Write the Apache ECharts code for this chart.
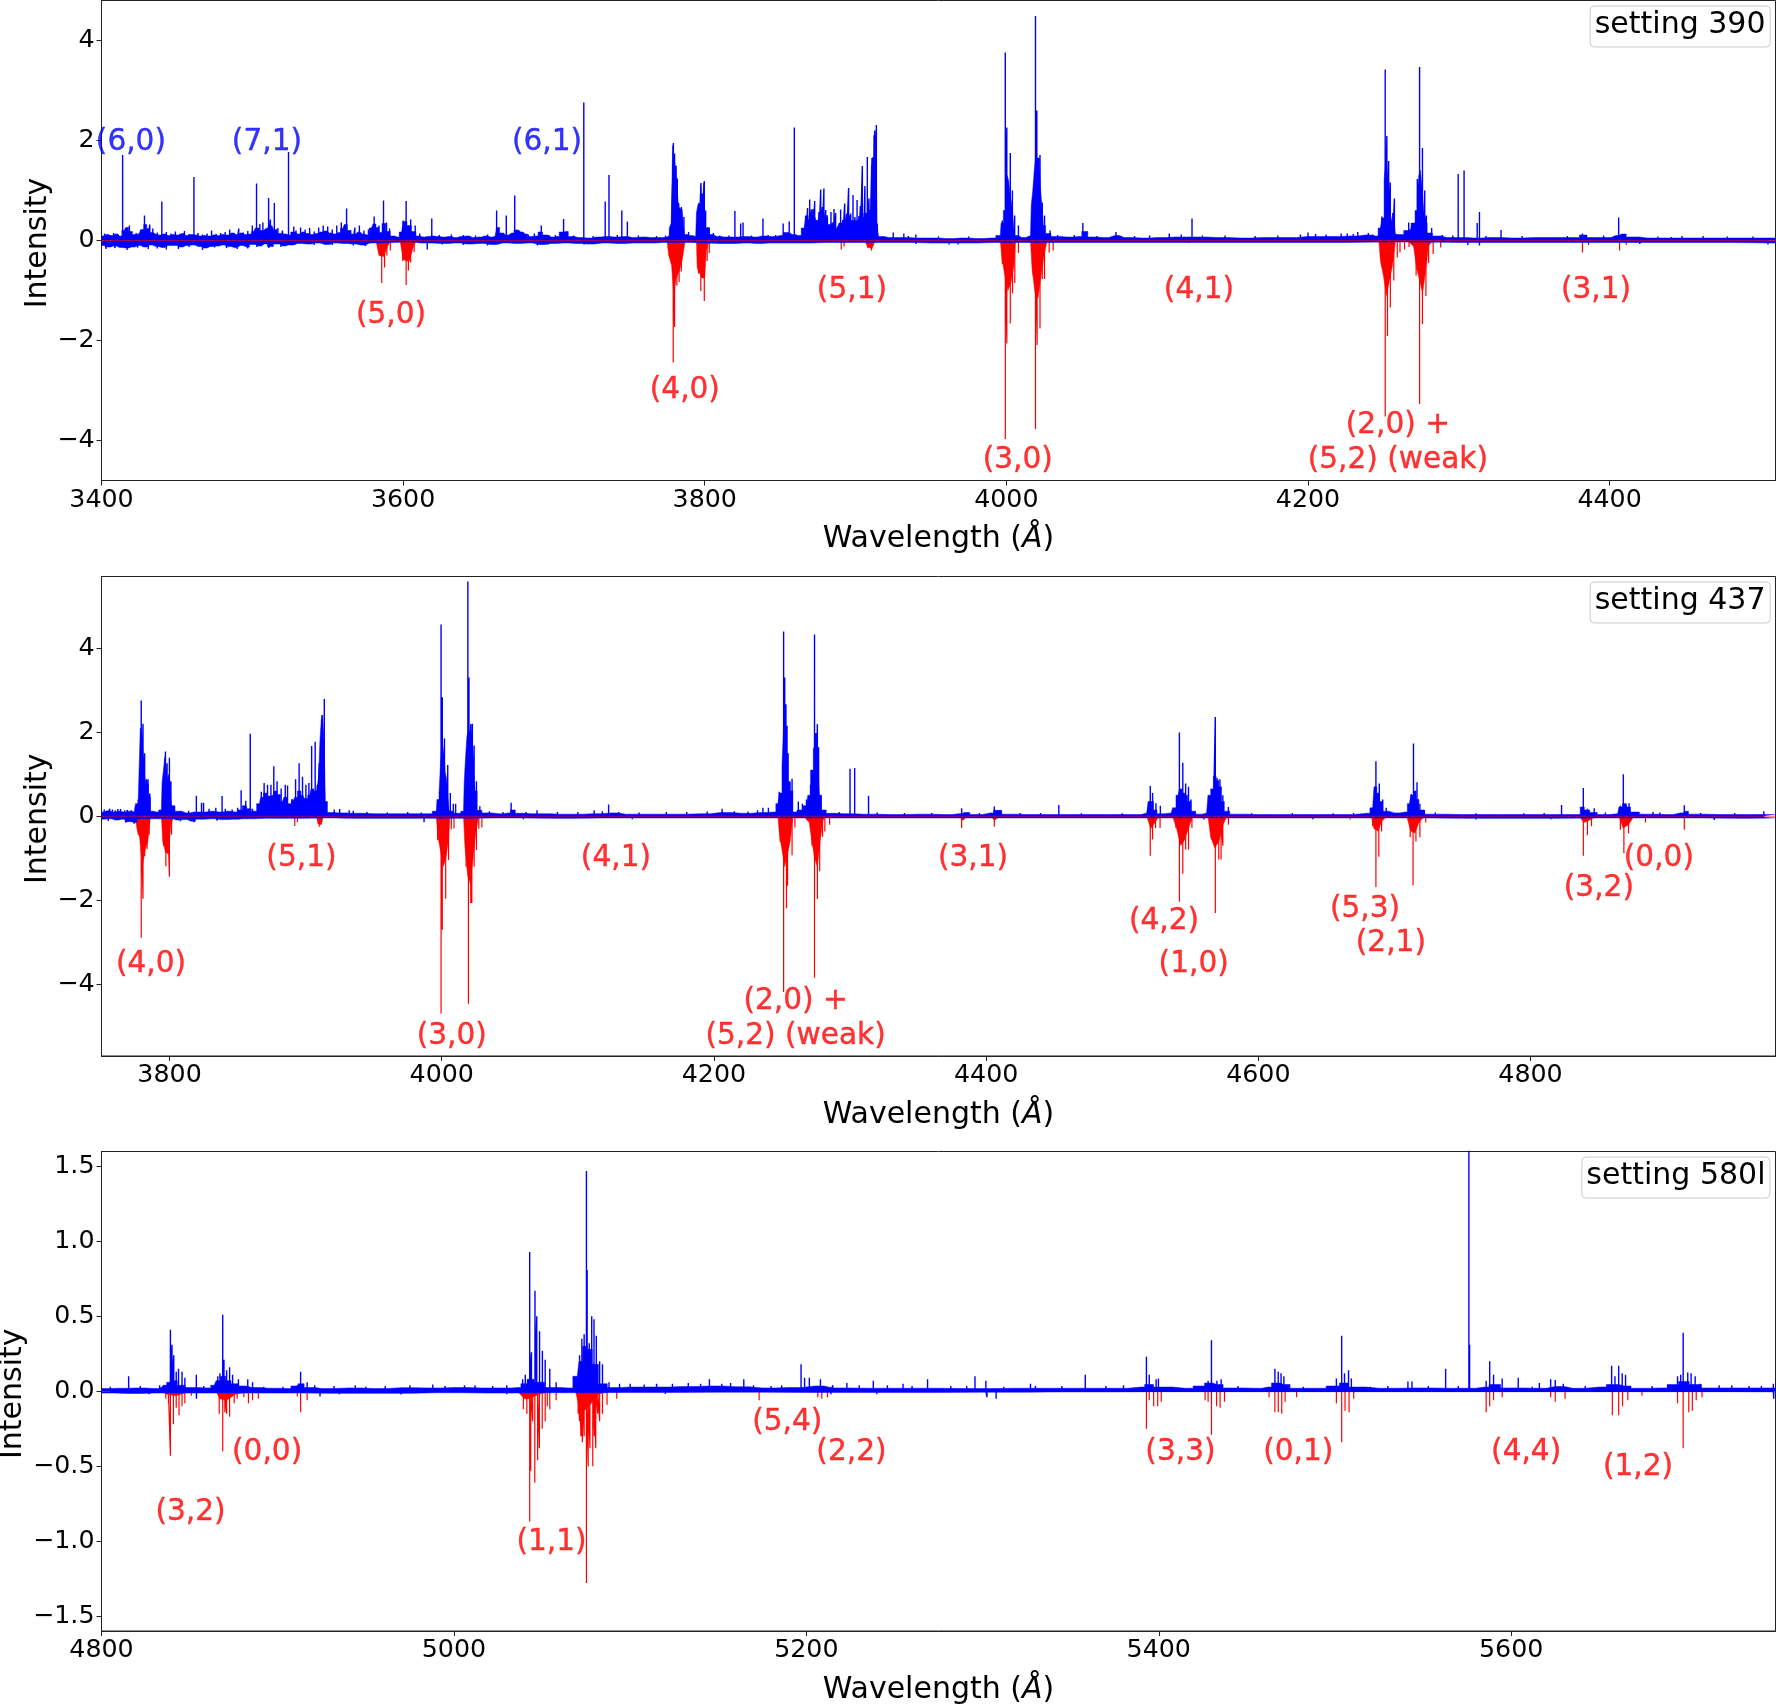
<!DOCTYPE html>
<html><head><meta charset="utf-8">
<style>html,body{margin:0;padding:0;background:#fff}#c{width:1776px;height:1705px}</style>
<script src="https://cdn.jsdelivr.net/npm/echarts@6/dist/echarts.min.js"></script>
</head><body><div id="c"></div>
<script>
// ---------- panel 1: setting 390 ----------
const p1XTicks=[3400,3600,3800,4000,4200,4400];
const p1YTicks=[-4,-2,0,2,4];
const p1BlueSpikes=[[3414,1.71],[3428.5,.5],[3440,.78],[3461.3,1.27],[3502.8,1.14],[3510.8,.85],[3514.6,.75],[3524,1.77],[3562.5,.64],[3580.8,.48],[3587,.8],[3602,.79],[3619,.44],[3662,.6],[3668.4,.5],[3674,.9],[3691.6,.3],[3706.4,.43],[3719.8,2.76],[3734,.78],[3736.5,1.31],[3745,.6],[3748.7,.38],
[3777,.2],[3778,.3],[3779.2,1.95],[3780,1.74],[3781,1.5],[3781.8,1.24],[3782.7,.75],[3783.6,.64],[3784.5,.67],[3786.2,.47],[3789.3,.17],[3795.3,.57],[3796.2,.75],[3797.5,1.15],[3798.4,.94],[3799.7,1.19],[3800.6,.6],[3802,.27],[3803,.26],[3805.7,.15],
[3820,.59],[3823.8,.34],[3825.4,.36],[3838.6,.44],[3852,.34],[3856,.38],[3859.4,2.26],[3865.8,.24],[3867,.5],[3868.2,.65],[3869.6,.82],[3870.7,.62],[3871.8,.63],[3872.9,.79],[3874,.41],[3875.7,.57],[3876.9,1.02],[3878,.67],[3879,1.04],[3880.2,.61],[3881.3,.46],[3883.7,.57],[3885.7,.63],[3886.8,.55],[3888.3,.29],[3890.1,.62],[3891.5,.41],[3892.8,.74],[3894.1,.54],[3895.4,1.05],[3896.8,.54],[3898.3,.91],[3899.6,.47],[3901,.81],[3902.3,.49],[3903.2,.69],[3904.5,1.49],[3905.4,.47],[3906.2,1.09],[3907.8,1.67],[3908.9,.84],[3909.8,.61],[3910.9,1.65],[3911.6,1.67],[3912.7,2.2],[3913.8,2.31],[3914.4,.34],
[3925,.16],[3932,.14],[3940,.12],
[3999.3,3.76],[4000.3,2.26],[4002.6,1.75],[4004,1],[4005.5,.5],[4008,.3],[3997.3,.4],[4019.3,4.49],[4020.2,2.6],[4022.3,1.71],[4023.8,.76],[4025.3,.5],[4029,.2],[4050.7,.35],[4072.7,.17],[4123.1,.44],[4108,.14],[4200,.16],[4233,.17],
[4251.2,3.42],[4252.3,2.09],[4253.5,1.59],[4254.6,1.16],[4256.2,.55],[4257.3,.84],[4258.4,.13],[4249,.48],[4274,3.47],[4275.9,1.85],[4277.4,1],[4278.5,.5],[4272.5,1.23],[4268.7,.35],[4266.8,.36],[4282,.25],[4299.6,1.33],[4303.5,1.4],[4313.7,.57],[4312.2,.35],[4328,.21],[4382,.14],[4406,.46],[4441,.07]];
const p1BlueNoise=[[3402,.14],[3405.5,.11],[3408,.15],[3411,.12],[3418.5,.3],[3423,.15],[3426,.2],[3432,.32],[3434,.24],[3437,.16],[3443,.17],[3446,.14],[3449,.18],[3452,.13],[3455,.19],[3458,.13],[3464,.15],[3467,.12],[3470,.14],[3473,.2],[3476,.13],[3479,.15],[3482,.17],[3485,.22],[3488,.15],[3491,.24],[3494,.16],[3497,.19],[3500,.3],[3505,.33],[3507,.36],[3512,.42],[3517,.25],[3520,.2],[3527.5,.28],[3529,.2],[3532,.26],[3535,.22],[3538,.25],[3541,.18],[3544,.26],[3547,.3],[3550,.28],[3553,.22],[3556,.3],[3559,.36],[3565,.2],[3568,.26],[3571,.3],[3574,.2],[3577,.22],[3584,.3],[3589,.36],[3591,.24],[3598,.16],[3600,.4],[3605,.42],[3608,.3],[3611,.14],[3624,.11],[3632,.12],[3640,.11],[3648,.1],[3656,.12],[3683,.12],[3687,.14],[3697,.1],[3701,.11],[3713,.1],[3726,.09],[3742,.11],[3756,.1],[3768,.09],[3774,.1],[3810,.1],[3816,.1],[3831,.1],[3842,.11],[3847,.11],[3935,.09],[3955,.08],[3975,.08],[4034,.11],[4045,.11],[4060,.09],[4085,.09],[4095,.1],[4116,.12],[4130,.1],[4145,.1],[4165,.09],[4180,.1],[4195,.12],[4205,.13],[4212,.12],[4222,.14],[4226,.14],[4230,.13],[4240,.15],[4243,.12],[4289,.11],[4296,.1],[4318,.09],[4342,.09],[4372,.09],[4396,.1],[4432,.08],[4448,.09],[4462,.09],[4478,.08],[4495,.08],[3403,-.17],[3409,-.15],[3417,-.19],[3424,-.14],[3431,-.17],[3437,-.16],[3443,-.18],[3451,-.17],[3458,-.13],[3467,-.19],[3475,-.14],[3483,-.15],[3490,-.17],[3497,-.16],[3503,-.13],[3511,-.15],[3519,-.13],[3528,-.09],[3541,-.09],[3553,-.09],[3567,-.1],[3575,-.11],[3616,-.18],[3626,-.08],[3640,-.09],[3656,-.1],[3689,-.1],[3696,-.08],[3720,-.08],[3940,-.07],[3962,-.08],[3968,-.08],[4306,-.09],[4313.7,-.1],[4420,-.07],[4505,-.08]];
const p1BlueHi=[[3400,.09],[3403,.12],[3406,.1],[3409,.13],[3412,.09],[3415,.2],[3417,.26],[3419,.18],[3422,.12],[3425,.14],[3427,.22],[3429,.32],[3431,.24],[3433,.16],[3435,.12],[3438,.11],[3441,.13],[3444,.1],[3447,.12],[3450,.11],[3453,.14],[3456,.1],[3459,.12],[3462,.11],[3465,.09],[3468,.1],[3471,.09],[3474,.11],[3477,.1],[3480,.12],[3483,.11],[3486,.15],[3489,.12],[3492,.15],[3495,.12],[3498,.13],[3501,.18],[3503,.25],[3506,.2],[3509,.24],[3511,.26],[3513,.3],[3515,.22],[3518,.14],[3521,.13],[3524,.11],[3527,.17],[3530,.13],[3533,.17],[3536,.14],[3539,.12],[3542,.14],[3545,.17],[3548,.19],[3551,.15],[3554,.13],[3557,.16],[3560,.24],[3562,.32],[3564,.2],[3567,.13],[3570,.17],[3573,.13],[3576,.11],[3579,.25],[3581,.33],[3583,.26],[3585,.16],[3587,.34],[3590,.18],[3593,.09],[3596,.07],[3599,.17],[3601,.38],[3604,.3],[3607,.18],[3610,.09],[3613,.07],[3616,.08],[3619,.09],[3622,.08],[3626,.07],[3630,.08],[3634,.06],[3638,.08],[3642,.09],[3646,.06],[3650,.07],[3654,.09],[3658,.07],[3661,.09],[3663,.26],[3665,.15],[3668,.11],[3672,.15],[3675,.21],[3678,.17],[3681,.13],[3684,.08],[3688,.09],[3691,.17],[3694,.11],[3698,.07],[3702,.08],[3705,.17],[3708,.18],[3711,.08],[3716,.06],[3722,.05],[3728,.07],[3734,.08],[3740,.07],[3746,.08],[3752,.06],[3758,.07],[3764,.06],[3770,.06],[3775,.07],
[3776,.1],[3777,.25],[3778.5,.35],[3779,1.9],[3780,1.7],[3781,1.45],[3782,1.1],[3783,.72],[3784,.62],[3785,.62],[3786,.45],[3787,.12],[3790,.1],[3794,.08],[3795,.55],[3796,.72],[3797,.75],[3797.5,1.1],[3798,.9],[3799,.7],[3799.5,1.15],[3800,.55],[3801,.25],[3803,.12],[3808,.08],[3813,.07],[3819,.07],[3826,.08],[3832,.07],[3838,.09],[3844,.08],[3850,.1],[3854,.16],[3858,.12],[3862,.1],[3866,.25],[3868,.42],[3870,.5],[3872,.45],[3875,.4],[3877,.55],[3880,.5],[3883,.32],[3885,.36],[3888,.25],[3890,.35],[3893,.3],[3895,.5],[3898,.4],[3901,.4],[3904,.45],[3907,.55],[3910,.6],[3911,1.5],[3913,2.1],[3914,1.9],[3914.5,.3],[3916,.08],[3922,.06],[3930,.06],[3940,.05],[3950,.05],[3960,.04],[3970,.05],[3980,.04],[3990,.05],[3996,.1],
[3997,.35],[3999,.6],[4000,1.2],[4001,1.3],[4002,1.2],[4003,.9],[4004,.75],[4005,.4],[4006,.1],[4010,.06],[4016,.1],[4017,.7],[4018,1],[4019,1.4],[4020,1.7],[4021,1.65],[4022,1.65],[4023,1.1],[4024,.7],[4025,.3],[4027,.14],[4032,.08],[4040,.07],[4048,.08],[4052,.18],[4056,.07],[4064,.06],[4072,.1],[4078,.06],[4090,.05],[4100,.06],[4112,.07],[4125,.07],[4140,.06],[4155,.05],[4170,.06],[4185,.06],[4200,.08],[4215,.08],[4228,.09],[4238,.11],[4245,.09],[4248,.25],[4250,.45],[4251,1.2],[4252,1.6],[4253,1.3],[4254,.9],[4255,.55],[4256,.4],[4257,.38],[4259,.12],[4262,.12],[4265,.2],[4268,.22],[4270,.35],[4272,.6],[4273,.95],[4274,1.3],[4275,1.4],[4276,1.1],[4277,.7],[4278,.35],[4280,.15],[4285,.09],[4292,.06],[4300,.06],[4310,.05],[4320,.06],[4335,.05],[4350,.06],[4365,.06],[4378,.06],[4382,.11],[4388,.06],[4398,.06],[4404,.1],[4408,.13],[4414,.07],[4425,.05],[4440,.05],[4455,.05],[4470,.05],[4485,.05],[4500,.05],[4510,.05]];
const p1BlueLo=[[3400,-.1],[3404,-.13],[3408,-.11],[3412,-.14],[3416,-.15],[3420,-.13],[3424,-.1],[3428,-.13],[3432,-.09],[3436,-.12],[3440,-.14],[3444,-.1],[3448,-.1],[3452,-.13],[3456,-.1],[3460,-.09],[3464,-.12],[3468,-.15],[3472,-.12],[3476,-.11],[3480,-.09],[3484,-.12],[3488,-.14],[3492,-.1],[3496,-.13],[3500,-.08],[3504,-.11],[3508,-.07],[3512,-.12],[3516,-.07],[3520,-.11],[3524,-.09],[3530,-.06],[3536,-.07],[3542,-.05],[3548,-.08],[3554,-.05],[3560,-.06],[3566,-.07],[3572,-.09],[3578,-.05],[3590,-.04],[3600,-.03],[3612,-.05],[3626,-.06],[3634,-.05],[3642,-.07],[3650,-.06],[3658,-.08],[3666,-.05],[3674,-.06],[3682,-.05],[3690,-.08],[3698,-.06],[3706,-.05],[3714,-.06],[3722,-.07],[3732,-.05],[3742,-.06],[3752,-.05],[3762,-.05],[3772,-.04],[3810,-.06],[3816,-.06],[3826,-.05],[3834,-.06],[3842,-.05],[3860,-.05],[3880,-.04],[3930,-.04],[3950,-.05],[3970,-.05],[3990,-.04],[4040,-.04],[4060,-.04],[4090,-.04],[4130,-.04],[4160,-.04],[4200,-.04],[4250,-.03],[4300,-.04],[4350,-.04],[4400,-.04],[4450,-.04],[4510,-.05]];
const p1RedSpikes=[[3585.8,-.85],[3587.7,-.54],[3589.2,-.3],[3591.5,-.2],[3602,-.89],[3603.5,-.6],[3605,-.44],[3607.3,-.23],[3599.7,-.41],[3779.1,-2.44],[3780,-1.73],[3781.5,-.9],[3783,-.83],[3784.5,-.62],[3777,-.34],[3797.4,-1.01],[3799.7,-1.21],[3795.9,-.66],[3801.6,-.41],[3803,-.25],[3890.5,-.18],[3892.4,-.12],[3910.5,-.2],[3908.2,-.15],
[3999.3,-3.97],[4000.3,-2.06],[4002.6,-1.66],[4004.1,-1.06],[4005.6,-.85],[3997.3,-.47],[4008,-.25],[4019.3,-3.77],[4020.4,-2.09],[4022.3,-1.76],[4023.8,-.77],[4025.3,-.77],[4017.8,-.7],[4028.4,-.24],[4031,-.2],
[4251.2,-3.52],[4252.7,-1.91],[4254.6,-1.34],[4256.9,-.8],[4249,-.52],[4259.2,-.34],[4261,-.24],[4264,-.18],[4274,-3.27],[4275.9,-1.67],[4278.2,-1.11],[4271.7,-.7],[4280,-.45],[4283,-.27],[4288,-.14],[4267,-.13],[4382,-.24],[4406.6,-.2],[4386,-.09],[4411,-.09],[4121,-.05],[4140,-.03]];
const p1RedLo=[[3582,0],[3584,-.3],[3587,-.32],[3590,-.1],[3592,0],[3598,0],[3600,-.38],[3604,-.42],[3607,-.1],[3609,0],[3775,0],[3776,-.28],[3778,-.5],[3779.5,-1.1],[3781,-.75],[3783,-.62],[3785,-.4],[3787,0],[3794.5,0],[3795,-.55],[3798,-.75],[3800,-.75],[3801,-.2],[3803,0],[3906,0],[3908,-.13],[3911,-.16],[3913,0],[3996,0],[3997,-.35],[3999,-.7],[4001,-1],[4003,-.85],[4005,-.5],[4006,0],[4016,0],[4017,-.55],[4019,-1.05],[4021,-1.15],[4023,-.7],[4025,-.3],[4027,0],[4247,0],[4248,-.4],[4250,-.7],[4252,-1.1],[4254,-.8],[4256,-.5],[4258,0],[4266,0],[4270,-.12],[4272,-.55],[4274,-.8],[4276,-1.05],[4278,-.6],[4280,-.1],[4283,0]];
const p1Labels=[["(6,0)",3419.5,2.02,"#0000ff"],["(7,1)",3509.7,2.02,"#0000ff"],["(6,1)",3695.4,2.02,"#0000ff"],["(5,0)",3592,-1.45,"#ff0000"],["(4,0)",3786.8,-2.95,"#ff0000"],["(5,1)",3897.6,-.95,"#ff0000"],["(3,0)",4007.6,-4.35,"#ff0000"],["(4,1)",4127.7,-.95,"#ff0000"],["(2,0) +\n(5,2) (weak)",4259.6,-4,"#ff0000"],["(3,1)",4391,-.95,"#ff0000"]];

// ---------- panel 2: setting 437 ----------
const p2XTicks=[3800,4000,4200,4400,4600,4800];
const p2YTicks=[-4,-2,0,2,4];
const p2BlueSpikes=[[3779.2,2.75],[3780.5,2.2],[3781.7,1.5],[3783,.88],[3784.2,.88],[3785.5,.54],[3777,.4],[3795.6,.96],[3797,1.54],[3798.2,1.26],[3799.9,1.39],[3801,.83],[3803,.24],[3758,.16],[3762,.17],[3767,.14],[3819.7,.49],[3823.5,.32],[3825,.32],[3838.6,.48],[3852.6,.62],[3856,.37],[3859.3,1.96],
[3867.4,.58],[3869.5,.79],[3872,.75],[3874.5,.75],[3876.6,1.19],[3879,.83],[3882,.66],[3885,.75],[3886.7,.73],[3890,.41],[3892.6,.88],[3895.2,1.26],[3897.7,.94],[3900.2,.75],[3902.4,.79],[3904.4,1.67],[3907,1.77],[3908.6,.75],[3910,1.26],[3912,2.41],[3913.7,2.79],[3921,.16],[3925,.17],[3932,.14],
[3999.5,4.56],[4000.4,2.83],[4002,1.85],[4004.4,1.22],[4006.3,.55],[4008.5,.3],[4010.2,.3],[4019.2,5.58],[4020,3.3],[4021.3,2.19],[4022.5,2.2],[4023.8,1.68],[4025.5,.83],[4028,.24],[4051,.32],[4070,.14],[4122.6,.28],[4112,.14],[4206,.18],[4236,.2],[4240,.2],
[4251.2,4.39],[4252,3.3],[4252.9,2.66],[4253.7,2.15],[4254.5,1.5],[4255.8,.83],[4257.4,.89],[4262,.35],[4265,.3],[4248,.58],[4273.9,4.32],[4274.8,1.98],[4276,2.19],[4276.9,1.64],[4278.6,.5],[4271,.75],[4268,.4],[4300,1.13],[4303.4,1.15],[4313.6,.49],
[4382,.19],[4406,.23],[4410,.14],[4453.4,.27],[4520.6,.72],[4522.3,.55],[4524.8,.31],[4528,.25],[4542,1.99],[4544.5,1.27],[4546.6,.78],[4548.7,.7],[4550.5,.4],[4568.4,2.36],[4569.7,.91],[4571.8,.88],[4573.9,.5],[4567,.6],[4578,.22],[4686.4,1.31],[4688.9,.78],[4691.4,.4],[4694,.2],[4714,1.73],[4716.6,.81],[4712.4,.53],[4718.7,.3],[4722,.15],[4822.8,.27],[4838.8,.67],[4841.8,.18],[4846.8,.19],[4868.2,1],[4870.3,.27],[4872.4,.31],[4866,.25],[4913,.26],[4971.4,.12]];
const p2BlueNoise=[[3752,.16],[3756,.18],[3760,.14],[3764,.17],[3769,.15],[3772,.14],[3808,.12],[3814,.13],[3829,.18],[3834,.2],[3841,.18],[3846,.16],[3850,.2],[3861,.18],[3935,.13],[3945,.1],[3960,.09],[3975,.1],[3985,.09],[4035,.12],[4045,.1],[4062,.1],[4085,.1],[4100,.1],[4118,.12],[4130,.1],[4145,.09],[4165,.1],[4180,.1],[4195,.11],[4215,.12],[4225,.11],[4232,.14],[4292,.1],[4320,.09],[4340,.08],[4360,.08],[4395,.08],[4425,.08],[4440,.08],[4470,.07],[4500,.07],[4595,.07],[4625,.08],[4655,.07],[4670,.08],[4730,.09],[4760,.07],[4795,.07],[4810,.08],[4855,.09],[4890,.1],[4895,.09],[4925,.08],[4950,.08],[3755,-.11],[3768,-.15],[3774,-.18],[3808,-.12],[3818,-.14],[3835,-.1],[3987,-.14],[4060,-.07],[4140,-.07],[4560,-.08],[4640,-.07],[4760,-.08],[4815,-.07],[4935,-.09]];
const p2BlueHi=[[3750,.1],[3754,.13],[3758,.1],[3762,.12],[3766,.1],[3770,.12],[3774,.1],[3776,.3],[3778,.4],[3779,2.1],[3780,2],[3781,1.5],[3782,1],[3783,.75],[3784,.75],[3785,.45],[3787,.12],[3790,.1],[3794,.15],[3795,.8],[3796,1.1],[3797,1.4],[3798,1],[3799,.9],[3800,1],[3801,.6],[3802,.25],[3806,.12],[3812,.08],[3818,.1],[3824,.1],[3830,.12],[3836,.1],[3842,.12],[3848,.1],[3852,.15],[3855,.25],[3858,.18],[3862,.12],[3866,.3],[3868,.45],[3870,.55],[3873,.48],[3876,.5],[3878,.6],[3880,.52],[3883,.35],[3885,.45],[3888,.3],[3891,.38],[3893,.45],[3895,.6],[3898,.5],[3900,.42],[3903,.5],[3905,.65],[3907,.6],[3909,.6],[3910,.9],[3911,1.8],[3912,2.3],[3913,2.4],[3914,1.8],[3915,.35],[3917,.09],[3925,.08],[3935,.07],[3950,.06],[3965,.06],[3980,.06],[3990,.06],[3996,.12],[3997,.4],[3999,.55],[4000,1.5],[4001,1.75],[4002,1.5],[4003,1.05],[4004,.9],[4005,.45],[4006,.12],[4012,.07],[4016,.12],[4017,.8],[4018,1.4],[4019,1.9],[4020,2.05],[4021,2],[4022,2.05],[4023,1.5],[4024,1],[4025,.6],[4027,.14],[4032,.08],[4042,.06],[4049,.08],[4052,.15],[4056,.07],[4066,.06],[4075,.06],[4085,.05],[4100,.05],[4110,.06],[4125,.08],[4135,.05],[4150,.05],[4170,.05],[4190,.06],[4205,.09],[4220,.07],[4235,.09],[4244,.1],[4247,.3],[4249,.55],[4251,1.2],[4252,2.4],[4253,1.9],[4254,1.3],[4255,.8],[4257,.6],[4259,.1],[4263,.15],[4268,.25],[4270,.5],[4272,1.1],[4274,1.6],[4275,1.7],[4276,1.5],[4277,1.1],[4278,.5],[4280,.15],[4285,.07],[4295,.06],[4310,.05],[4330,.04],[4350,.05],[4370,.04],[4380,.06],[4384,.09],[4392,.04],[4403,.08],[4408,.14],[4415,.05],[4430,.04],[4450,.04],[4470,.04],[4490,.04],[4510,.04],[4518,.08],[4520,.35],[4522,.35],[4524,.15],[4527,.06],[4536,.08],[4538,.2],[4541,.5],[4543,.65],[4545,.55],[4547,.5],[4549,.35],[4552,.12],[4556,.05],[4562,.08],[4564,.5],[4566,.65],[4568,.95],[4570,.85],[4572,.7],[4574,.35],[4576,.12],[4582,.05],[4600,.04],[4630,.04],[4660,.04],[4680,.07],[4684,.2],[4686,.7],[4688,.55],[4690,.35],[4692,.12],[4700,.08],[4708,.1],[4711,.3],[4713,.5],[4715,.6],[4717,.4],[4719,.15],[4725,.05],[4750,.04],[4780,.04],[4810,.04],[4835,.04],[4838,.22],[4841,.15],[4846,.09],[4852,.04],[4864,.06],[4866,.22],[4869,.3],[4872,.22],[4875,.1],[4885,.05],[4900,.04],[4910,.08],[4914,.12],[4918,.05],[4940,.04],[4960,.04],[4980,.04]];
const p2BlueLo=[[3750,-.07],[3755,-.06],[3760,-.09],[3765,-.07],[3770,-.13],[3774,-.15],[3778,-.06],[3800,-.06],[3805,-.09],[3810,-.08],[3816,-.12],[3822,-.07],[3830,-.06],[3838,-.08],[3846,-.07],[3854,-.06],[3870,-.05],[3880,-.05],[3915,-.04],[3930,-.05],[3950,-.05],[3980,-.05],[3990,-.05],[4040,-.04],[4080,-.05],[4120,-.04],[4160,-.04],[4200,-.04],[4240,-.04],[4300,-.04],[4350,-.04],[4400,-.04],[4450,-.04],[4500,-.04],[4550,-.04],[4600,-.04],[4650,-.04],[4700,-.04],[4750,-.05],[4800,-.05],[4850,-.04],[4900,-.04],[4950,-.05],[4980,-.04]];
const p2RedSpikes=[[3779.2,-2.89],[3780.5,-1.96],[3781.7,-.95],[3783.5,-.78],[3785,-.44],[3777,-.44],[3797.3,-1.19],[3799.9,-1.44],[3798.6,-.87],[3795.6,-.7],[3801.5,-.44],[3892,-.23],[3894,-.14],[3910,-.25],[3999.5,-4.69],[4000.4,-2.7],[4002.9,-1.96],[4005,-1.04],[3997,-.57],[4007,-.31],[4009,-.29],[4019.6,-4.46],[4021.3,-2.06],[4022.1,-2.06],[4023.8,-1.2],[4025.5,-.8],[4017.9,-1.2],[4027.2,-.3],[4029.5,-.27],
[4251.2,-4.18],[4253.3,-2.19],[4254.1,-1.65],[4257.4,-.93],[4248.7,-.61],[4259.5,-.27],[4273.9,-3.84],[4276,-1.97],[4277.7,-1.31],[4272,-.7],[4279.8,-.49],[4281.5,-.36],[4285,-.2],[4382,-.28],[4406,-.25],[4520.6,-.94],[4522.3,-.55],[4524.5,-.28],[4527.8,-.28],[4542,-2.03],[4544.5,-1.37],[4546.6,-.79],[4548.7,-.79],[4551.2,-.28],[4539.5,-.28],[4568.4,-2.3],[4570.9,-1.03],[4572.6,-1.03],[4573.9,-.7],[4566,-.55],[4578,-.2],[4686.4,-1.68],[4688.5,-.96],[4690.6,-.36],[4684,-.24],[4713.7,-1.64],[4715.8,-.6],[4718.7,-.5],[4711.6,-.5],[4723,-.15],[4838.8,-.94],[4841.8,-.45],[4844.8,-.24],[4868.6,-.88],[4866,-.32],[4872,-.41],[4884.5,-.15],[4913,-.32],[4667.5,-.08]];
const p2RedLo=[[3775,0],[3776,-.3],[3778,-.5],[3780,-1.2],[3782,-.8],[3784,-.6],[3786,0],[3794,0],[3795,-.6],[3797,-.85],[3799,-.9],[3801,-.2],[3803,0],[3908,0],[3909,-.18],[3911.5,-.2],[3913,0],[3996,0],[3997,-.45],[3999,-.8],[4001,-1.2],[4003,-1],[4005,-.55],[4006,0],[4016,0],[4017,-.7],[4019,-1.4],[4021,-1.6],[4023,-1],[4025,-.4],[4027,0],[4247,0],[4248,-.4],[4250,-.8],[4252,-1.2],[4254,-.9],[4256,-.6],[4258,0],[4266,0],[4270,-.15],[4272,-.6],[4274,-1],[4276,-1.2],[4278,-.6],[4280,-.1],[4282,0],[4380,0],[4383,-.1],[4386,0],[4404,0],[4406,-.1],[4410,0],[4518,0],[4521,-.3],[4524,-.15],[4527,0],[4537,0],[4540,-.3],[4543,-.7],[4546,-.55],[4549,-.25],[4552,0],[4563,0],[4565,-.5],[4568,-.75],[4571,-.6],[4574,-.2],[4577,0],[4683,0],[4685,-.3],[4688,-.35],[4691,-.1],[4695,0],[4709,0],[4712,-.35],[4715,-.4],[4718,-.15],[4722,0],[4836,0],[4839,-.15],[4843,-.1],[4848,0],[4865,0],[4868,-.28],[4872,-.2],[4876,0]];
const p2Labels=[["(4,0)",3786.4,-3.45],["(5,1)",3896.9,-.95],["(3,0)",4007.4,-5.17],["(4,1)",4128,-.95],["(2,0) +\n(5,2) (weak)",4260,-4.76],["(3,1)",4390.4,-.95],["(4,2)",4530.7,-2.45],["(1,0)",4552.5,-3.45],["(5,3)",4678.4,-2.16],["(2,1)",4697.4,-2.95],["(3,2)",4850.2,-1.66],["(0,0)",4894.3,-.95]];

// ---------- panel 3: setting 580l ----------
const p3XTicks=[4800,5000,5200,5400,5600];
const p3YTicks=[-1.5,-1,-.5,0,.5,1,1.5];
const p3BlueSpikes=[[4815.4,.1],[4836,.04],[4839.1,.41],[4840,.31],[4841,.24],[4842.4,.13],[4843.7,.15],[4845.7,.13],[4847.3,.09],[4853.8,.11],[4853.9,-.05],[4866,.1],[4867.2,.12],[4868.8,.51],[4869.5,.21],[4871,.14],[4872.7,.16],[4874.4,.11],[4877.7,.08],[4883,.08],[4885.7,.06],[4911.1,.04],[4913,.13],[4916.7,.06],[4924,-.035],
[5039,.08],[5040.5,.11],[5043,.93],[5044,.26],[5046,.67],[5047,.5],[5048.6,.4],[5050.2,.27],[5051.8,.21],[5054.4,.15],[5058,.06],[5071.3,.24],[5072.6,.35],[5073.9,.38],[5075.2,1.47],[5075.6,.81],[5076.8,.32],[5078.2,.5],[5079.5,.48],[5080.8,.37],[5082.7,.2],[5084.3,.18],[5088,.06],[5094,.05],[5145,.08],[5164.5,.08],[5197,.18],[5199,.09],[5201.7,.09],[5208,.08],[5223,.055],[5238,.07],
[5254.9,.05],[5268.8,.08],[5295.7,.1],[5301.9,.07],[5302.5,-.04],[5307.7,-.05],[5327.2,.05],[5358.3,.11],[5393,.23],[5394.6,.11],[5398.5,.08],[5399.8,.085],[5428,.07],[5429.9,.34],[5433,.07],[5435.4,.08],[5465.9,.15],[5467.8,.13],[5469.4,.12],[5471,.1],[5500.8,.085],[5503.8,.37],[5505.4,.12],[5507.7,.14],[5509.3,.085],[5541.4,.065],[5543.7,.065],[5562.8,.15],[5576,1.7],[5576.4,.31],[5585.8,.07],[5587.8,.2],[5590,.11],[5594.9,.085],[5604,.09],[5616,.055],[5622.4,.08],[5625,.075],[5629.6,.05],[5657,.17],[5658.9,.1],[5661,.17],[5663,.12],[5664.9,.11],[5694.4,.1],[5696.2,.11],[5697.6,.39],[5700.2,.125],[5702.1,.12],[5704.4,.1],[5707.3,.05],[5725.2,.04],[5748.8,.05],[5749,-.05]];
const p3BlueNoise=[[4805,.03],[4822,.035],[4833,.04],[4858,.035],[4892,.03],[4903,.03],[4921,.04],[4932,.035],[4944,.04],[4950,.03],[4961,.035],[4975,.04],[4988,.045],[4995,.035],[5006,.04],[5012,.04],[5022,.035],[5030,.04],[5100,.05],[5108,.045],[5115,.05],[5124,.05],[5133,.055],[5140,.05],[5152,.05],[5157,.055],[5170,.04],[5180,.035],[5186,.04],[5215,.04],[5230,.04],[5246,.04],[5260,.035],[5282,.035],[5291,.035],[5312,.03],[5330,.035],[5345,.035],[5370,.035],[5380,.04],[5445,.035],[5482,.03],[5520,.03],[5530,.035],[5553,.035],[5570,.035],[5612,.03],[5642,.035],[5680,.035],[5718,.04],[5735,.035],[5742,.035],[4827,-.02],[4935,-.02],[4970,-.022],[5030,-.02],[5120,-.018],[5214,-.02],[5240,-.02]];
const p3BlueHi=[[4800,.018],[4810,.02],[4820,.022],[4830,.018],[4834,.025],[4836,.04],[4838,.06],[4841,.07],[4845,.04],[4850,.025],[4860,.022],[4864,.04],[4866,.07],[4869,.1],[4872,.07],[4875,.05],[4880,.035],[4885,.025],[4895,.02],[4905,.018],[4910,.035],[4913,.05],[4917,.025],[4925,.018],[4940,.022],[4955,.018],[4970,.024],[4985,.022],[5000,.025],[5015,.022],[5030,.022],[5036,.025],[5040,.05],[5043,.08],[5048,.06],[5055,.025],[5065,.022],[5070,.1],[5072,.2],[5074,.3],[5077,.28],[5080,.18],[5084,.05],[5090,.025],[5100,.028],[5115,.028],[5130,.032],[5145,.035],[5160,.03],[5175,.022],[5190,.025],[5205,.035],[5215,.022],[5235,.02],[5260,.02],[5290,.018],[5320,.02],[5350,.02],[5375,.02],[5390,.028],[5394,.045],[5400,.028],[5415,.02],[5424,.035],[5428,.055],[5433,.045],[5440,.022],[5455,.02],[5462,.028],[5466,.055],[5471,.045],[5478,.02],[5490,.02],[5500,.035],[5505,.055],[5510,.028],[5525,.02],[5545,.022],[5565,.02],[5575,.02],[5585,.028],[5590,.045],[5598,.022],[5615,.02],[5625,.032],[5635,.02],[5650,.028],[5658,.045],[5664,.035],[5672,.02],[5685,.022],[5692,.045],[5698,.065],[5704,.045],[5712,.022],[5730,.022],[5750,.022]];
const p3BlueLo=[[4800,-.012],[4815,-.015],[4830,-.012],[4850,-.012],[4880,-.012],[4900,-.012],[4930,-.014],[4960,-.014],[4990,-.01],[5020,-.012],[5050,-.01],[5100,-.008],[5150,-.006],[5200,-.008],[5250,-.008],[5300,-.006],[5350,-.004],[5400,-.003],[5450,-.003],[5500,-.003],[5550,-.003],[5600,-.003],[5650,-.003],[5700,-.003],[5750,-.004]];
const p3RedSpikes=[[4836.5,-.05],[4838,-.08],[4839.1,-.43],[4840.8,-.22],[4842.4,-.11],[4844,-.16],[4845.7,-.1],[4847.3,-.08],[4851,-.03],[4866.8,-.15],[4868.8,-.4],[4870,-.14],[4871,-.15],[4872.7,-.17],[4875.3,-.08],[4877,-.05],[4880.8,-.04],[4883.4,-.08],[4885.7,-.06],[4889,-.05],[4911.1,-.035],[4913,-.14],[4916.7,-.06],
[5039.4,-.12],[5041.4,-.15],[5043,-.87],[5043.6,-.53],[5044.7,-.2],[5045.9,-.61],[5047.5,-.46],[5048.5,-.38],[5050.1,-.25],[5051.8,-.2],[5053,-.1],[5054.4,-.12],[5058,-.06],[5070.5,-.15],[5071.3,-.2],[5072.1,-.3],[5072.9,-.34],[5073.9,-.3],[5075.2,-1.28],[5076.2,-.5],[5077.2,-.38],[5078.8,-.5],[5079.7,-.3],[5080.5,-.38],[5081.6,-.15],[5082.7,-.2],[5084.3,-.15],[5086.9,-.09],[5092.4,-.05],[5173.2,-.06],[5206.5,-.04],[5208.8,-.05],[5212,-.04],
[5393,-.25],[5394.6,-.06],[5397.1,-.1],[5399.4,-.1],[5401.4,-.07],[5426.3,-.06],[5428,-.07],[5429.9,-.29],[5432.8,-.1],[5434.8,-.11],[5437.3,-.07],[5462.6,-.04],[5465.9,-.14],[5467.8,-.14],[5469.8,-.15],[5471.7,-.07],[5478.2,-.04],[5500.8,-.08],[5503.8,-.34],[5505.7,-.13],[5508,-.14],[5510.6,-.05],[5585.8,-.14],[5587.8,-.1],[5590,-.06],[5594.9,-.04],[5622.4,-.04],[5625,-.07],[5630.6,-.05],[5657.4,-.16],[5661,-.16],[5663.2,-.1],[5666.2,-.06],[5674.2,-.03],[5694.4,-.08],[5697.6,-.38],[5700.8,-.14],[5702.8,-.13],[5705,-.06],[5708.3,-.04]];
const p3RedLo=[[4834,0],[4837,-.02],[4842,-.03],[4848,-.01],[4855,0],[4865,0],[4867,-.05],[4871,-.06],[4876,-.02],[4885,0],[5036,0],[5040,-.05],[5043,-.05],[5048,-.02],[5056,0],[5069,0],[5071,-.1],[5074,-.13],[5078,-.08],[5082,-.02],[5088,0]];
const p3Labels=[["(3,2)",4850.5,-.79],["(0,0)",4894,-.39],["(1,1)",5055.4,-.99],["(5,4)",5189.2,-.19],["(2,2)",5225.6,-.39],["(3,3)",5412.3,-.39],["(0,1)",5479.2,-.39],["(4,4)",5608.5,-.39],["(1,2)",5672,-.49]];

const settings=["setting 390","setting 437","setting 580l"];
const xRanges=[[3400,4510],[3750,4980],[4800,5750]];
const yLimits=[4.8,5.7,1.6];

// ---------- chart ----------
const BLUE="#0000ff",RED="#ff0000";
const grids=[{top:.5,height:480},{top:576.5,height:479.5},{top:1151.5,height:479.5}];
const panels=[
 {xt:p1XTicks,yt:p1YTicks,bs:p1BlueSpikes.concat(p1BlueNoise),bh:p1BlueHi,bl:p1BlueLo,rs:p1RedSpikes,rl:p1RedLo,lb:p1Labels,zero:true,gap:48},
 {xt:p2XTicks,yt:p2YTicks,bs:p2BlueSpikes.concat(p2BlueNoise),bh:p2BlueHi,bl:p2BlueLo,rs:p2RedSpikes,rl:p2RedLo,lb:p2Labels,zero:true,gap:48},
 {xt:p3XTicks,yt:p3YTicks,bs:p3BlueSpikes.concat(p3BlueNoise),bh:p3BlueHi,bl:p3BlueLo,rs:p3RedSpikes,rl:p3RedLo,lb:p3Labels,zero:false,gap:73}];
const font="DejaVu Sans";
const sticks=l=>{const o=[];l.slice().sort((a,b)=>a[0]-b[0]).forEach(([w,v])=>{o.push([w,0],[w,v],[w,0]);});return o;};
const fmt=v=>{const s=Math.abs(v)<1e-9?"0":String(v);return s.replace("-","\u2212");};
const opt={animation:false,backgroundColor:"#fff",grid:[],xAxis:[],yAxis:[],series:[],title:[]};
panels.forEach((p,i)=>{
 opt.grid.push({left:101.5,width:1674,top:grids[i].top,height:grids[i].height,show:true,borderColor:"#222",borderWidth:1,backgroundColor:"#fff",outerBoundsMode:"none",containLabel:false});
 opt.xAxis.push({type:"value",gridIndex:i,min:xRanges[i][0],max:xRanges[i][1],splitLine:{show:false},
  axisLine:{show:true,onZero:false,lineStyle:{color:"#222",width:1}},
  axisTick:{show:true,length:5,inside:false,customValues:p.xt,lineStyle:{color:"#222",width:1}},
  axisLabel:{show:true,customValues:p.xt,color:"#000",fontFamily:font,fontSize:25.3,margin:7,formatter:v=>String(v)},
  name:"{a|Wavelength (}{b|\u00c5}{a|)}",nameLocation:"middle",nameGap:44,nameMoveOverlap:false,
  nameTextStyle:{rich:{a:{fontFamily:font,fontSize:30,color:"#000"},b:{fontFamily:font,fontStyle:"italic",fontSize:30,color:"#000"}}}});
 opt.yAxis.push({type:"value",gridIndex:i,min:-yLimits[i],max:yLimits[i],splitLine:{show:false},
  axisLine:{show:true,onZero:false,lineStyle:{color:"#222",width:1}},
  axisTick:{show:true,length:5,customValues:p.yt,lineStyle:{color:"#222",width:1}},
  axisLabel:{show:true,customValues:p.yt,color:"#000",fontFamily:font,fontSize:25.3,margin:7,formatter:v=>(i===2?v.toFixed(1).replace("-","\u2212"):fmt(v))},
  name:"Intensity",nameLocation:"middle",nameRotate:90,nameGap:p.gap,nameMoveOverlap:false,nameTextStyle:{fontFamily:font,fontSize:30,color:"#000",padding:[0,5,0,0]}});
 const base={type:"line",xAxisIndex:i,yAxisIndex:i,showSymbol:false,symbol:"none",silent:true,animation:false,smooth:false};
 opt.series.push({...base,name:"red area "+i,data:p.rl,lineStyle:{color:RED,width:.5},areaStyle:{color:RED,opacity:1},z:2});
 opt.series.push({...base,name:"red lines "+i,data:sticks(p.rs),lineStyle:{color:RED,width:1.2},z:2});
 opt.series.push({...base,name:"blue upper "+i,step:"middle",data:p.bh,lineStyle:{color:BLUE,width:.5},areaStyle:{color:BLUE,opacity:1},z:3});
 opt.series.push({...base,name:"blue lower "+i,step:"middle",data:p.bl,lineStyle:{color:BLUE,width:.5},areaStyle:{color:BLUE,opacity:1},z:3});
 opt.series.push({...base,name:"blue lines "+i,data:sticks(p.bs),lineStyle:{color:BLUE,width:1.4},z:3});
 if(p.zero) opt.series.push({...base,name:"red zero "+i,data:[[xRanges[i][0],0],[xRanges[i][1],0]],lineStyle:{color:RED,width:1,opacity:.6},z:4});
 opt.series.push({type:"scatter",xAxisIndex:i,yAxisIndex:i,silent:true,symbolSize:.01,itemStyle:{color:"transparent"},z:6,clip:false,
  data:p.lb.map(l=>({value:[l[1],l[2]],name:l[0],label:{color:l[3]||RED,textBorderColor:l[3]||RED,textBorderWidth:.4}})),
  label:{show:true,position:"inside",align:"center",verticalAlign:"middle",offset:[0,2.5],fontFamily:font,fontSize:29.6,lineHeight:35,formatter:d=>d.name}});
 opt.title.push({text:settings[i],right:6,top:grids[i].top+5,padding:[4,4.5,7,4.5],borderColor:"#ccc",borderWidth:1,borderRadius:4,backgroundColor:"rgba(255,255,255,.8)",
  textStyle:{fontFamily:font,fontWeight:"normal",fontSize:30,color:"#000",lineHeight:31},z:8});
});
echarts.init(document.getElementById("c"),null,{renderer:"canvas"}).setOption(opt);
</script></body></html>
